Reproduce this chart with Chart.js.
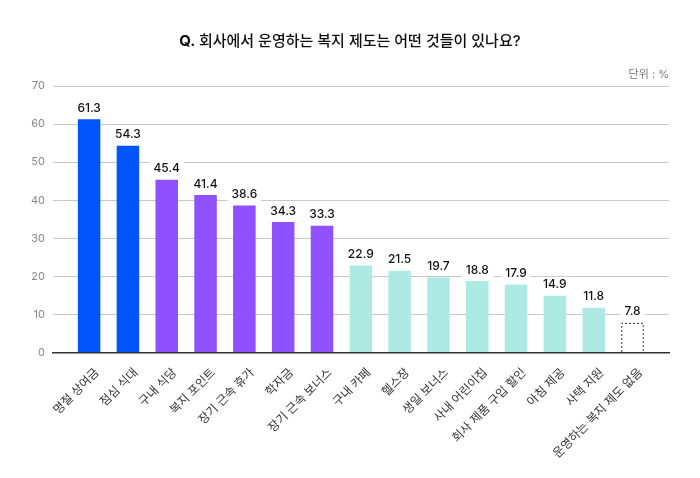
<!DOCTYPE html>
<html>
<head>
<meta charset="utf-8">
<script src="https://cdn.jsdelivr.net/npm/chart.js@4.4.1/dist/chart.umd.min.js"></script>
<style>
  html, body { margin: 0; padding: 0; background: #fff; }
  #wrap { width: 700px; height: 478px; }
</style>
</head>
<body>
<div id="wrap"><canvas id="myChart" width="700" height="478"></canvas></div>
<script>
const categories = [
  "명절 상여금", "점심 식대", "구내 식당", "복지 포인트", "장기 근속 휴가", "학자금",
  "장기 근속 보너스", "구내 카페", "헬스장", "생일 보너스", "사내 어린이집",
  "회사 제품 구입 할인", "아침 제공", "사택 지원", "운영하는 복지 제도 없음"
];
const values = [61.3, 54.3, 45.4, 41.4, 38.6, 34.3, 33.3, 22.9, 21.5, 19.7, 18.8, 17.9, 14.9, 11.8, 7.8];
const groups = ["blue", "blue", "purple", "purple", "purple", "purple", "purple",
  "teal", "teal", "teal", "teal", "teal", "teal", "teal", "none"];
const yTicks = [0, 10, 20, 30, 40, 50, 60, 70];

const colorMap = { blue: "#0055FF", purple: "#8F50FF", teal: "#ADEAE4", none: "rgba(0,0,0,0)" };
const FONT = "Inter, 'Noto Sans CJK KR', sans-serif";

// title, unit, value labels and the dashed bar
const decoPlugin = {
  id: "deco",
  afterDraw(chart) {
    const ctx = chart.ctx;
    const area = chart.chartArea;
    ctx.save();

    // title
    ctx.fillStyle = "#111";
    ctx.textBaseline = "middle";
    const q = "Q. ";
    const rest = "회사에서 운영하는 복지 제도는 어떤 것들이 있나요?";
    ctx.font = "bold 15px " + FONT;
    const wq = ctx.measureText(q).width;
    ctx.font = "500 15px " + FONT;
    const wr = ctx.measureText(rest).width;
    let tx = 350 - (wq + wr) / 2;
    ctx.font = "bold 15px " + FONT;
    ctx.textAlign = "left";
    ctx.fillText(q, tx, 41);
    ctx.font = "500 15px " + FONT;
    ctx.fillText(rest, tx + wq, 41);

    // unit
    ctx.font = "11px " + FONT;
    ctx.fillStyle = "#777";
    ctx.textAlign = "right";
    ctx.fillText("단위 : %", area.right, 75);

    // bars
    const meta = chart.getDatasetMeta(0);
    meta.data.forEach((bar, i) => {
      if (groups[i] === "none") {
        const w = bar.width;
        ctx.strokeStyle = "#333";
        ctx.lineWidth = 1;
        ctx.setLineDash([2, 2]);
        ctx.beginPath();
        ctx.moveTo(bar.x - w / 2 + 0.5, bar.base);
        ctx.lineTo(bar.x - w / 2 + 0.5, bar.y + 0.5);
        ctx.lineTo(bar.x + w / 2 - 0.5, bar.y + 0.5);
        ctx.lineTo(bar.x + w / 2 - 0.5, bar.base);
        ctx.stroke();
        ctx.setLineDash([]);
      }
      const txt = values[i].toFixed(1);
      ctx.font = "500 12px " + FONT;
      const tw = ctx.measureText(txt).width;
      const cy = bar.y - 11;
      ctx.fillStyle = "#fff";
      ctx.fillRect(bar.x - tw / 2 - 4, cy - 8, tw + 8, 16);
      ctx.fillStyle = "#111";
      ctx.textAlign = "center";
      ctx.textBaseline = "middle";
      ctx.fillText(txt, bar.x, cy);
    });
    ctx.restore();
  }
};

const data = {
  datasets: [
    {
      data: values.map((v, i) => ({ x: i, y: v })),
      backgroundColor: groups.map(g => colorMap[g]),
      borderWidth: 0,
      barPercentage: 0.58,
      categoryPercentage: 1.0,
    },
  ],
};

const config = {
  type: "bar",
  data: data,
  options: {
    responsive: false,
    animation: false,
    devicePixelRatio: 1,
    layout: { padding: { top: 86, left: 20, right: 31, bottom: 12 } },
    plugins: {
      legend: { display: false },
      tooltip: { enabled: false },
    },
    scales: {
      y: {
        min: 0,
        max: 70,
        afterBuildTicks(axis) { axis.ticks = yTicks.map(v => ({ value: v })); },
        afterFit(axis) { axis.width = 33; },
        grid: { color: "#c8c8c8", lineWidth: 1, drawTicks: false },
        border: { display: false },
        ticks: { color: "#888", font: { family: FONT, size: 11 }, padding: 8 },
      },
      x: {
        type: "linear",
        min: -0.93,
        max: 14.94,
        offset: false,
        afterBuildTicks(axis) { axis.ticks = categories.map((c, i) => ({ value: i })); },
        grid: { display: false },
        border: { display: true, color: "#333", width: 1.5 },
        ticks: {
          callback: (v) => categories[v],
          color: "#333",
          font: { family: FONT, size: 12 },
          maxRotation: 45,
          minRotation: 45,
          autoSkip: false,
          padding: 5,
          labelOffset: 8,
        },
      },
    },
  },
  plugins: [decoPlugin],
};

const myChart = new Chart(document.getElementById("myChart"), config);
</script>
</body>
</html>
